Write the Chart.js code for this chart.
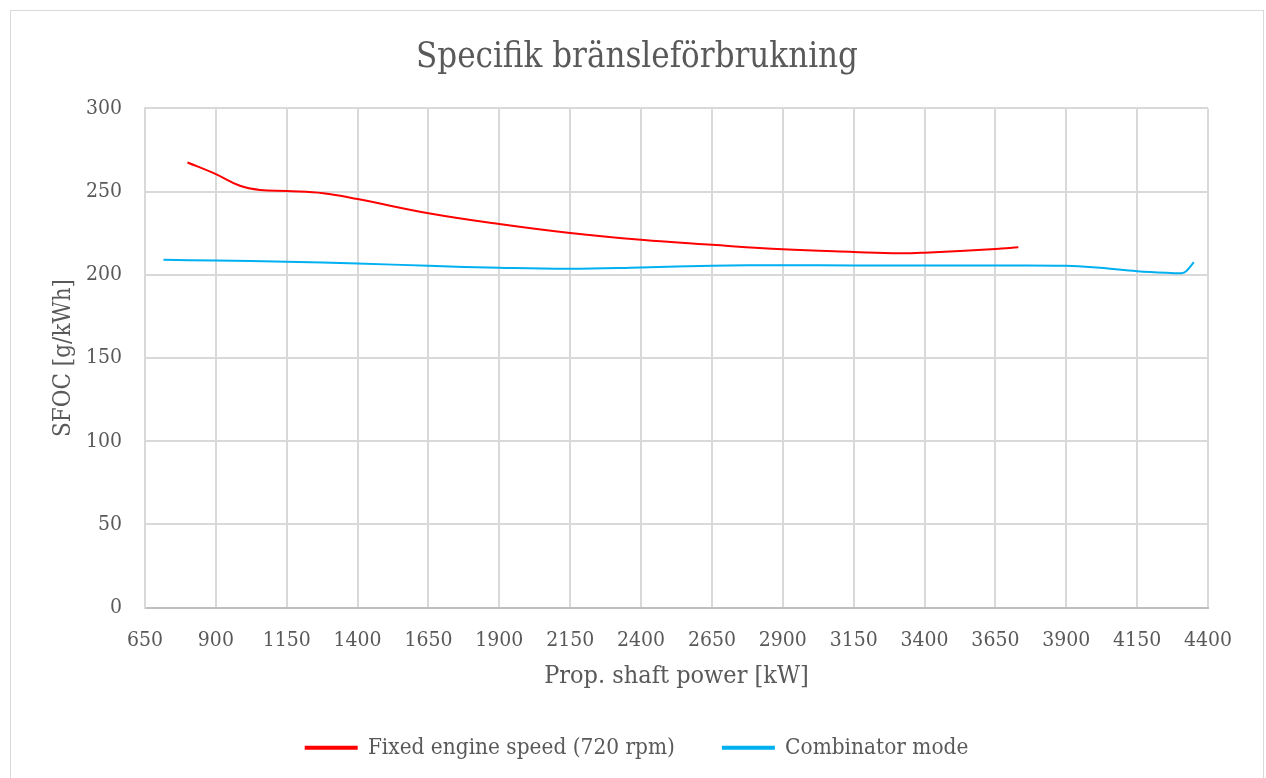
<!DOCTYPE html>
<html>
<head>
<meta charset="utf-8">
<script src="https://cdn.jsdelivr.net/npm/chart.js@4.4.1/dist/chart.umd.min.js"></script>
<style>
  html, body { margin: 0; padding: 0; background: #ffffff; }
  #wrap { width: 1266px; height: 778px; position: relative; }
</style>
</head>
<body>
<div id="wrap"><canvas id="c" width="1266" height="778"></canvas></div>
<script>
// Prop. shaft power [kW] and SFOC [g/kWh] for each running mode
const fixedSpeedPower = [800, 900, 985, 1056, 1150, 1279, 1400, 1650, 1900, 2150, 2400, 2650, 2900, 3150, 3313, 3400, 3650, 3731];
const fixedSpeedSfoc  = [267.5, 260.5, 253.5, 251, 250.3, 249, 245.5, 237, 230.5, 225.1, 221, 218, 215.3, 213.7, 212.9, 213.3, 215.5, 216.5];

const combinatorPower = [715, 900, 1150, 1400, 1650, 1900, 2150, 2400, 2650, 2900, 3150, 3400, 3650, 3900, 4018, 4150, 4253, 4306, 4323, 4350];
const combinatorSfoc  = [209, 208.6, 207.8, 206.8, 205.4, 204.2, 203.6, 204.4, 205.4, 205.8, 205.6, 205.6, 205.6, 205.4, 204.2, 202.2, 201.2, 201, 202.2, 207.6];

// x-axis tick positions
const powerTicks = [650, 900, 1150, 1400, 1650, 1900, 2150, 2400, 2650, 2900, 3150, 3400, 3650, 3900, 4150, 4400];

const seriesNames = ['Fixed engine speed (720 rpm)', 'Combinator mode'];
const chartTitle = 'Specifik bränsleförbrukning';
const xTitle = 'Prop. shaft power [kW]';
const yTitle = 'SFOC [g/kWh]';

const toPoints = (xs, ys) => xs.map((x, i) => ({ x: x, y: ys[i] }));

const FONT = "'DejaVu Serif Condensed', 'Liberation Serif', serif";
const TEXT = '#595959';
const GRID = '#d9d9d9';

// white page with a thin frame around the whole chart
const framePlugin = {
  id: 'frame',
  beforeDraw(chart) {
    const ctx = chart.ctx;
    ctx.save();
    ctx.fillStyle = '#ffffff';
    ctx.fillRect(0, 0, chart.width, chart.height);
    ctx.strokeStyle = GRID;
    ctx.lineWidth = 1;
    ctx.strokeRect(10.5, 10.5, 1253, 800);
    ctx.restore();
  }
};

new Chart(document.getElementById('c'), {
  type: 'scatter',
  data: {
    datasets: [
      {
        label: seriesNames[0],
        data: toPoints(fixedSpeedPower, fixedSpeedSfoc),
        showLine: true,
        borderColor: '#ff0000',
        backgroundColor: '#ff0000',
        borderWidth: 2,
        pointRadius: 0,
        tension: 0.4
      },
      {
        label: seriesNames[1],
        data: toPoints(combinatorPower, combinatorSfoc),
        showLine: true,
        borderColor: '#00b0f0',
        backgroundColor: '#00b0f0',
        borderWidth: 2,
        pointRadius: 0,
        tension: 0.4
      }
    ]
  },
  options: {
    responsive: false,
    animation: false,
    layout: { padding: { left: 66, right: 58, top: 0, bottom: 9 } },
    plugins: {
      title: {
        display: true,
        text: chartTitle,
        color: TEXT,
        font: { family: FONT, size: 34.5, weight: 'normal' },
        padding: { top: 37, bottom: 30 }
      },
      legend: {
        position: 'bottom',
        labels: {
          color: TEXT,
          font: { family: FONT, size: 22.4 },
          boxWidth: 51,
          boxHeight: 2,
          padding: 48
        }
      },
      tooltip: { enabled: false }
    },
    scales: {
      x: {
        type: 'linear',
        min: 650,
        max: 4400,
        afterBuildTicks(scale) {
          scale.ticks = powerTicks.map(v => ({ value: v }));
        },
        grid: { color: GRID, lineWidth: 2, drawTicks: false },
        border: { color: '#bfbfbf', width: 2 },
        ticks: {
          color: TEXT,
          font: { family: FONT, size: 21 },
          padding: 20,
          maxRotation: 0,
          autoSkip: false,
          callback: v => String(v)
        },
        title: {
          display: true,
          text: xTitle,
          color: TEXT,
          font: { family: FONT, size: 25 },
          padding: { top: 0, bottom: -3 }
        },
        afterFit(scale) { scale.height = 81; }
      },
      y: {
        min: 0,
        max: 300,
        ticks: {
          stepSize: 50,
          color: TEXT,
          font: { family: FONT, size: 21 },
          padding: 23,
          callback: v => String(v)
        },
        grid: { color: GRID, lineWidth: 2, drawTicks: false },
        border: { color: GRID, width: 2 },
        title: {
          display: true,
          text: yTitle,
          color: TEXT,
          font: { family: FONT, size: 24 },
          padding: { top: -17, bottom: 0 }
        },
        afterFit(scale) { scale.width = 79; }
      }
    }
  },
  plugins: [framePlugin]
});
</script>
</body>
</html>
